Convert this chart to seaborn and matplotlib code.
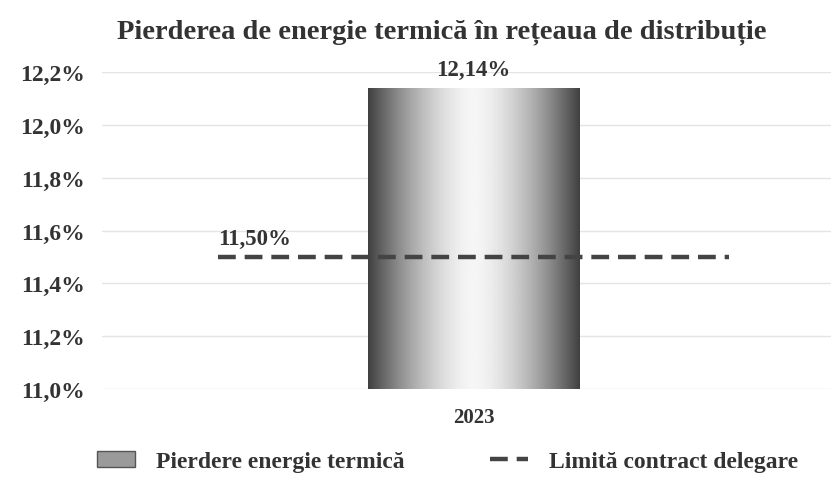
import numpy as np
import pandas as pd
import matplotlib
matplotlib.use("Agg")
import matplotlib.pyplot as plt
import seaborn as sns
from matplotlib.lines import Line2D
from matplotlib.patches import Patch

# data
years = ["2023"]
pierdere = [12.14]       # % pierdere energie termica
limita = [11.50]         # % limita contract delegare
y_ticks = [11.0, 11.2, 11.4, 11.6, 11.8, 12.0, 12.2]

sns.set_theme(style="white")
plt.rcParams['font.family'] = ['Liberation Serif', 'DejaVu Serif']
TXT = '#333333'

df = pd.DataFrame({"an": years, "pierdere": pierdere})

fig = plt.figure(figsize=(8.34, 4.81), dpi=100)
ax = fig.add_axes([0.122, 0.189, 0.874, 0.659])

sns.barplot(data=df, x="an", y="pierdere", ax=ax, width=0.29,
            color='#888888', edgecolor='none')
ax.set_ylim(11.0, 12.2)
ax.set_xlim(-0.51, 0.49)

# gradient fill of the bar (dark edges, light centre)
grad = np.abs(np.linspace(-1, 1, 256)) ** 1.6
grad = 1 - grad
for p in ax.patches:
    x0, w = p.get_x(), p.get_width()
    img = ax.imshow(grad[np.newaxis, :], cmap='gray', vmin=-0.35, vmax=1.05,
                    extent=[x0, x0 + w, 11.0, p.get_height()],
                    aspect='auto', zorder=p.get_zorder() + 0.1)
    img.set_clip_path(p)
    ax.text(x0 + w / 2, p.get_height() + 0.03, f"{p.get_height():.2f}%".replace('.', ','),
            ha='center', va='bottom', fontsize=16.5, fontweight='bold', color=TXT)

# dashed limit line across the category
for i, v in enumerate(limita):
    sns.lineplot(x=[i - 0.35, i + 0.35], y=[v, v], ax=ax, color='#444444',
                 linewidth=3.2, linestyle=(0, (4, 2)), zorder=5)
    ax.text(i - 0.35, v + 0.03, f"{v:.2f}%".replace('.', ','), ha='left', va='bottom',
            fontsize=16.5, fontweight='bold', color=TXT)

ax.set_yticks(y_ticks)
ax.set_yticklabels([f"{t:.1f}%".replace('.', ',') for t in y_ticks],
                   fontsize=17, fontweight='bold', color=TXT)
ax.tick_params(axis='y', length=0, pad=12)
ax.tick_params(axis='x', length=0, pad=13)
for lbl in ax.get_xticklabels():
    lbl.set_fontsize(15)
    lbl.set_fontweight('bold')
    lbl.set_color(TXT)
ax.set_xlabel('')
ax.set_ylabel('')
ax.yaxis.grid(True, color='#e4e4e4', linewidth=1)
ax.set_axisbelow(True)
sns.despine(ax=ax, left=True, bottom=True)

fig.suptitle("Pierderea de energie termică în rețeaua de distribuție", x=0.53, y=0.96,
             fontsize=20.5, fontweight='bold', color=TXT)

handles = [Patch(facecolor='#9a9a9a', edgecolor='#555555', label='Pierdere energie termică'),
           Line2D([0], [0], color='#444444', linewidth=3.2, linestyle=(0, (4, 2)),
                  label='Limită contract delegare')]
fig.legend(handles=handles, loc='center', bbox_to_anchor=(0.537, 0.038), ncol=2,
           frameon=False, columnspacing=3.6, handlelength=1.6, handletextpad=0.9,
           prop={'weight': 'bold', 'size': 17}, labelcolor=TXT)

fig.savefig('out.png', dpi=100)
